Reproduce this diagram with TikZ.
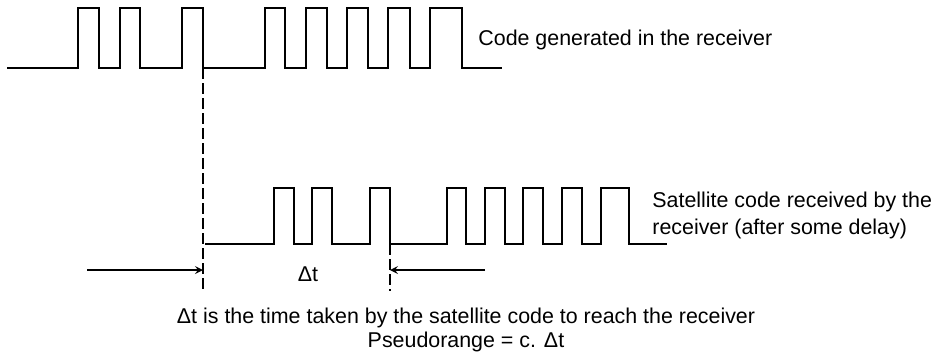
\documentclass[tikz,border=0pt]{standalone}
\usepackage{fontspec}
\setmainfont{Liberation Sans}
\usetikzlibrary{calc}
\tikzstyle{signal} = [line width=1pt, line join=miter]
\tikzstyle{marker} = [line width=1pt, dash pattern=on 5.5pt off 2pt]
\tikzstyle{arrow} = [line width=0.75pt,->,>=stealth]
\tikzstyle{txt} = [inner sep=0pt, font=\fontsize{10.7}{13.5}\selectfont]
\begin{document}
\begin{tikzpicture}[x=0.5pt, y=-0.5pt]
  \useasboundingbox (0,0) rectangle (931,360);
  \draw[signal] (7,68) \foreach \a/\b in {78/99,120/140,182/203,265/285,306/327,347/368,388/410,430/462} { -- (\a,68) -- (\a,8) -- (\b,8) -- (\b,68) } -- (502,68);
  \draw[signal] (205,244) \foreach \a/\b in {274/294,312/332,370/390,447/466,485/505,523/543,562/582,601/629} { -- (\a,244) -- (\a,188) -- (\b,188) -- (\b,244) } -- (667,244);
  \coordinate (sent) at (203,68);
  \coordinate (sentend) at (203,292);
  \coordinate (recv) at (390,244);
  \coordinate (recvend) at (390,291);
  \coordinate (from) at (87,270);
  \coordinate (to) at (485,270);
  \draw[marker] (sent) -- (sentend);
  \draw[marker] (recv) -- (recvend);
  \draw[arrow] (from) -- (sent |- from);
  \draw[arrow] (to) -- (recv |- to);
  \node (gen)[txt, anchor=base west] at (478,45) {Code generated in the receiver};
  \node (sat)[txt, anchor=north west, align=left] at (652,192) {Satellite code received by the\\receiver (after some delay)};
  \node (dt)[txt] at (308,274) {Δt};
  \node (note)[txt, font=\fontsize{10.7}{11.8}\selectfont, align=center, anchor=north] at (466,308) {Δt is the time taken by the satellite code to reach the receiver\\Pseudorange = c. Δt};
\end{tikzpicture}
\end{document}
